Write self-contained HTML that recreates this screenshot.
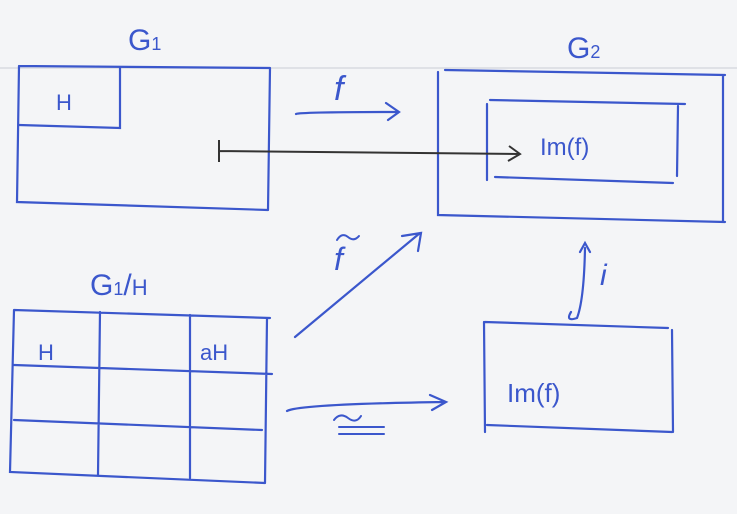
<!DOCTYPE html>
<html><head><meta charset="utf-8"><style>
html,body{margin:0;padding:0;background:#f4f5f7;}
svg{display:block;}
text{font-family:"Liberation Sans",sans-serif;fill:#3b57cc;}
</style></head><body>
<svg width="737" height="514" viewBox="0 0 737 514">
<rect width="737" height="514" fill="#f4f5f7"/>
<line x1="0" y1="68" x2="737" y2="68" stroke="#dfe1e6" stroke-width="2"/>
<g stroke="#3b57cc" stroke-width="2.2" fill="none" stroke-linecap="round">
 <path d="M19,66 L270,68 M19,66 L17,202 L268,210 M270,68 L268,210"/>
 <path d="M120,68 L120,128 L19,125"/>
 <path d="M296,114 Q300,112 398,112 M386,103 L399,112 L388,120"/>
 <path d="M445,70 L725,75 M438,72 L438,215 L725,222 M723,75 L723,222"/>
 <path d="M490,100 L685,104 M487,104 L487,180 M495,177 L673,183 M678,106 L677,176"/>
 <path d="M14,310 L270,318 M14,310 L10,472 L265,483 M267,318 L265,483 M100,312 L98,475 M190,315 L190,478 M14,365 L272,374 M14,420 L262,430"/>
 <path d="M295,337 L420,233 M402,236 L421,233 L418,251"/>
 <path d="M287,411 Q300,404 445,402 M430,395 L446,402 L432,410"/>
 <path d="M485,322 L668,328 M484,322 L485,432 M487,425 L672,432 M672,330 L673,432"/>
 <path d="M571,312 Q565,322 577,318 Q584,300 585,248 M580,252 L585,243 L590,252"/>
 <path d="M334,420 Q340,412 348,418 Q356,424 361,416 M339,427 L384,427 M339,434 L384,434" stroke-width="2"/>
 <path d="M337,240 Q342,232 348,237 Q354,242 359,236" stroke-width="2"/>
</g>
<path d="M219,140 L219,162 M219,151 L520,154 M509,146 L520,154 L508,161" stroke="#333" stroke-width="2" fill="none"/>
<text x="128" y="50" font-size="30">G<tspan font-size="18">1</tspan></text>
<text x="567" y="58" font-size="30">G<tspan font-size="18">2</tspan></text>
<text x="56" y="110" font-size="22">H</text>
<text x="334" y="100" font-size="34" font-style="italic">f</text>
<text x="540" y="155" font-size="24">Im(f)</text>
<text x="90" y="295" font-size="30">G<tspan font-size="18">1</tspan>/<tspan font-size="22">H</tspan></text>
<text x="38" y="360" font-size="22">H</text>
<text x="200" y="360" font-size="22">aH</text>
<text x="334" y="270" font-size="32" font-style="italic">f</text>
<text x="507" y="402" font-size="26">Im(f)</text>
<text x="600" y="285" font-size="30" font-style="italic">i</text>
</svg>
</body></html>
